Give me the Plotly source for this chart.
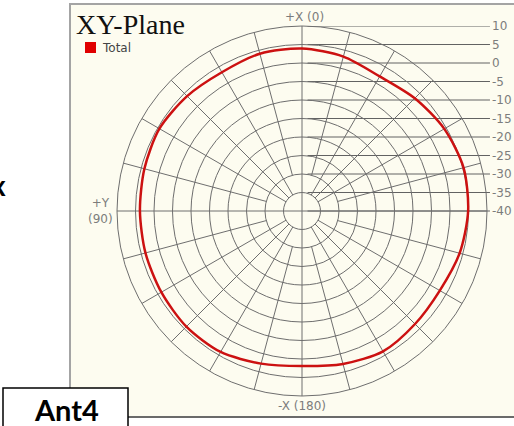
import plotly.graph_objects as go

W, H = 514, 426

# XY-plane total gain (dB), read every 15 deg (0 = +X at top, 90 = +Y at left)
angles = [0, 15, 30, 45, 60, 75, 90, 105, 120, 135, 150, 165,
          180, 195, 210, 225, 240, 255, 270, 285, 300, 315, 330, 345]
gain_total = [3.9, 4.0, 3.3, 3.9, 4.5, 4.1, 3.8, 3.8, 3.9, 4.2, 4.0, 2.7,
              1.9, 2.8, 3.8, 3.2, 3.0, 4.1, 4.9, 5.2, 4.4, 3.1, 2.0, 3.2]

ring_levels = [-35, -30, -25, -20, -15, -10, -5, 0, 5]
scale_labels = [10, 5, 0, -5, -10, -15, -20, -25, -30, -35, -40]
spoke_angles = list(range(0, 360, 15))

R_MIN, R_MAX = -40, 10

GRID = "#6e6e6e"
TXT = "#7c7c7c"
CREAM = "#fdfcf0"


def px(x):
    return x / W


def py(y):
    return 1 - y / H


# polar circle: centre (302, 211) px, radius 185 px
pol_x = [px(117), px(487)]
pol_y = [py(396), py(26)]
unit = 185 / 50.0  # px per dB

fig = go.Figure()

# spokes, inner ones start further out
sp_r, sp_t = [], []
for a in spoke_angles:
    if a % 90 == 0:
        r0 = R_MIN
    elif a % 30 == 0 or a % 45 == 0:
        r0 = -35
    else:
        r0 = -30
    sp_r += [r0, R_MAX, None]
    sp_t += [a, a, None]

fig.add_trace(go.Scatterpolar(
    r=sp_r, theta=sp_t, mode="lines",
    line=dict(color=GRID, width=1),
    hoverinfo="skip", showlegend=False,
))

# leader lines to the scale on the right (cartesian overlay)
lx, ly = [], []
for v in scale_labels:
    lx += [1.5, 50.8, None]
    ly += [v - R_MIN, v - R_MIN, None]

fig.add_trace(go.Scatter(
    x=lx, y=ly, mode="lines",
    line=dict(color="#626262", width=1),
    hoverinfo="skip", showlegend=False,
    xaxis="x", yaxis="y",
))

fig.add_trace(go.Scatterpolar(
    r=gain_total + gain_total[:1],
    theta=angles + angles[:1],
    mode="lines",
    line=dict(color="#cc1111", width=2.5, shape="spline", smoothing=0.8),
    name="Total", showlegend=False,
))

for v in scale_labels:
    fig.add_annotation(
        x=50.9, y=v - R_MIN, xref="x", yref="y",
        text=str(v), showarrow=False, xanchor="left", yanchor="middle",
        font=dict(family="DejaVu Sans", size=12, color=TXT),
    )

# panel frame
fig.add_shape(type="rect", xref="paper", yref="paper",
              x0=px(70), x1=px(520), y0=py(417), y1=py(4),
              fillcolor=CREAM, line=dict(width=0), layer="below")
fig.add_shape(type="line", xref="paper", yref="paper",
              x0=px(70), x1=px(70), y0=py(418), y1=py(3),
              line=dict(color="#a4a4a4", width=2), layer="below")
fig.add_shape(type="line", xref="paper", yref="paper",
              x0=px(70), x1=px(520), y0=py(4), y1=py(4),
              line=dict(color="#a4a4a4", width=2), layer="below")
fig.add_shape(type="line", xref="paper", yref="paper",
              x0=px(70), x1=px(520), y0=py(417), y1=py(417),
              line=dict(color="#6a6a6a", width=2), layer="below")

# title + legend
fig.add_annotation(x=px(74), y=py(25), xref="paper", yref="paper",
                   text="XY-Plane", showarrow=False, xanchor="left", yanchor="middle",
                   font=dict(family="Liberation Serif", size=28, color="#111111"))
fig.add_shape(type="rect", xref="paper", yref="paper",
              x0=px(85), x1=px(96), y0=py(53), y1=py(42),
              fillcolor="#e00000", line=dict(width=0))
fig.add_annotation(x=px(100), y=py(47.5), xref="paper", yref="paper",
                   text="Total", showarrow=False, xanchor="left", yanchor="middle",
                   font=dict(family="DejaVu Sans", size=12, color="#444444"))

# axis direction labels
fig.add_annotation(x=px(304), y=py(17), xref="paper", yref="paper",
                   text="+X (0)", showarrow=False, xanchor="center", yanchor="middle",
                   font=dict(family="DejaVu Sans", size=12, color=TXT))
fig.add_annotation(x=px(100), y=py(211), xref="paper", yref="paper",
                   text="+Y<br>(90)", showarrow=False, xanchor="center", yanchor="middle",
                   font=dict(family="DejaVu Sans", size=12, color=TXT))
fig.add_annotation(x=px(302), y=py(406), xref="paper", yref="paper",
                   text="-X (180)", showarrow=False, xanchor="center", yanchor="middle",
                   font=dict(family="DejaVu Sans", size=12, color=TXT))

# cut-off text at the left edge and the antenna tag
fig.add_annotation(x=px(8), y=py(185), xref="paper", yref="paper",
                   text="<b>x</b>", showarrow=False, xanchor="right", yanchor="middle",
                   font=dict(family="Lato", size=28, color="#000000"))
fig.add_shape(type="rect", xref="paper", yref="paper",
              x0=px(3), x1=px(128), y0=py(432), y1=py(388),
              fillcolor="white", line=dict(color="black", width=1.5))
fig.add_annotation(x=px(66), y=py(409), xref="paper", yref="paper",
                   text="<b>Ant4</b>", showarrow=False, xanchor="center", yanchor="middle",
                   font=dict(family="Lato", size=29, color="#000000"))

fig.update_layout(
    width=W, height=H,
    margin=dict(l=0, r=0, t=0, b=0),
    paper_bgcolor="white",
    plot_bgcolor="rgba(0,0,0,0)",
    showlegend=False,
    polar=dict(
        domain=dict(x=pol_x, y=pol_y),
        bgcolor="rgba(0,0,0,0)",
        radialaxis=dict(range=[R_MIN, R_MAX], tickvals=ring_levels,
                        showticklabels=False, ticks="", showline=False,
                        gridcolor=GRID, gridwidth=1),
        angularaxis=dict(rotation=90, direction="counterclockwise",
                         showgrid=False, showticklabels=False, ticks="",
                         showline=True, linecolor=GRID, linewidth=1),
    ),
    xaxis=dict(domain=[px(117), 1.0], range=[-50, -50 + (W - 117) / unit],
               visible=False, fixedrange=True),
    yaxis=dict(domain=pol_y, range=[-50, 50], visible=False, fixedrange=True),
)

fig.write_html("out.html", config={"displayModeBar": False},
               post_script="document.body.style.margin='0';document.body.style.overflow='hidden';")
